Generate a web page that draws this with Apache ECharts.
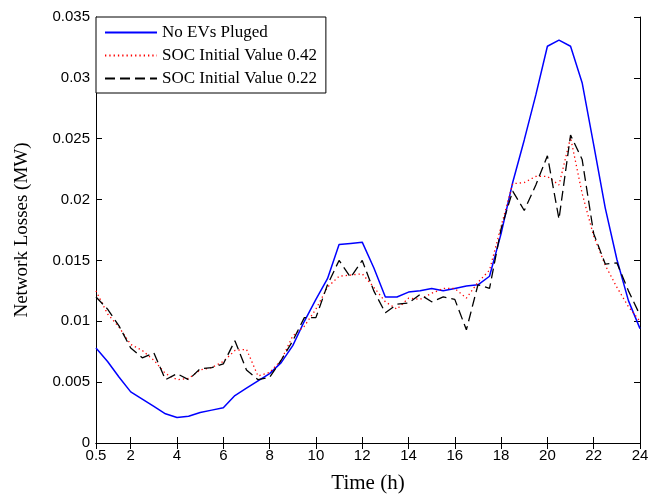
<!DOCTYPE html>
<html>
<head>
<meta charset="utf-8">
<script src="https://cdn.jsdelivr.net/npm/echarts@6/dist/echarts.min.js"></script>
<style>
html,body{margin:0;padding:0;background:#fff;}
#c{width:662px;height:500px;}
</style>
</head>
<body>
<div id="c"></div>
<script>
const hours = [0.5,1,1.5,2,2.5,3,3.5,4,4.5,5,5.5,6,6.5,7,7.5,8,8.5,9,9.5,10,10.5,11,11.5,12,12.5,13,13.5,14,14.5,15,15.5,16,16.5,17,17.5,18,18.5,19,19.5,20,20.5,21,21.5,22,22.5,23,23.5,24];
const noEV = [0.0078,0.0067,0.0054,0.0042,0.0036,0.0030,0.0024,0.0021,0.0022,0.0025,0.0027,0.0029,0.0039,0.0045,0.0051,0.0057,0.0066,0.0080,0.0100,0.0118,0.0135,0.0163,0.0164,0.0165,0.0144,0.0120,0.0120,0.0124,0.0125,0.0127,0.0125,0.0127,0.0129,0.0130,0.0137,0.0172,0.0214,0.0249,0.0286,0.0326,0.0331,0.0326,0.0296,0.0245,0.0193,0.0151,0.0117,0.0094];
const soc042 = [0.0125,0.0106,0.0095,0.0081,0.0076,0.0068,0.0057,0.0052,0.0053,0.0060,0.0062,0.0067,0.0076,0.0077,0.0055,0.0058,0.0068,0.0088,0.0096,0.0110,0.0128,0.0137,0.0138,0.0139,0.0128,0.0116,0.0110,0.0119,0.0118,0.0123,0.0127,0.0127,0.0119,0.0132,0.0142,0.0178,0.0213,0.0214,0.0219,0.0219,0.0212,0.0251,0.0205,0.0170,0.0146,0.0128,0.0112,0.0100];
const soc022 = [0.0120,0.0110,0.0096,0.0078,0.0070,0.0074,0.0052,0.0057,0.0052,0.0061,0.0062,0.0065,0.0084,0.0060,0.0052,0.0054,0.0068,0.0084,0.0103,0.0103,0.0130,0.0150,0.0136,0.0150,0.0125,0.0107,0.0114,0.0115,0.0122,0.0116,0.0120,0.0118,0.0093,0.0130,0.0127,0.0176,0.0207,0.0191,0.0212,0.0236,0.0184,0.0253,0.0233,0.0172,0.0147,0.0148,0.0125,0.0105];
const xTicks = [0.5,2,4,6,8,10,12,14,16,18,20,22,24];
const seriesNames = ['No EVs Pluged','SOC Initial Value 0.42','SOC Initial Value 0.22'];

const pair = (ys) => hours.map((h, i) => [h, ys[i]]);
const chart = echarts.init(document.getElementById('c'), null, {renderer: 'canvas'});
const axisLine = {show: true, lineStyle: {color: '#000', width: 1}};
const labelFont = {fontFamily: 'Liberation Sans, Arial, sans-serif', fontSize: 15, color: '#000'};
const serif = 'Liberation Serif, Times New Roman, serif';
chart.setOption({
  animation: false,
  backgroundColor: '#fff',
  grid: {left: 96, right: 22, top: 17, bottom: 57, containLabel: false},
  legend: {
    orient: 'vertical', left: 96, top: 17,
    backgroundColor: '#fff', borderColor: '#000', borderWidth: 1,
    borderRadius: 0,
    padding: [7, 9, 6, 8], itemGap: 6, itemWidth: 52, itemHeight: 17,
    itemStyle: {opacity: 0},
    textStyle: {fontFamily: serif, fontSize: 17, color: '#000'},
    data: seriesNames
  },
  xAxis: [{
    type: 'value', min: 0.5, max: 24,
    name: 'Time (h)', nameLocation: 'middle', nameGap: 30,
    nameTextStyle: {fontFamily: serif, fontSize: 21, color: '#000'},
    axisLine: axisLine,
    axisTick: {show: true, inside: true, length: 6, customValues: xTicks, lineStyle: {color: '#000'}},
    axisLabel: Object.assign({customValues: xTicks, margin: 5}, labelFont),
    splitLine: {show: false}
  }, {
    type: 'value', min: 0.5, max: 24, position: 'top',
    axisLine: axisLine,
    axisTick: {show: true, inside: true, length: 6, customValues: xTicks, lineStyle: {color: '#000'}},
    axisLabel: {show: false},
    splitLine: {show: false}
  }],
  yAxis: [{
    type: 'value', min: 0, max: 0.035, interval: 0.005,
    name: 'Network Losses (MW)', nameLocation: 'middle', nameGap: 64,
    nameTextStyle: {fontFamily: serif, fontSize: 19, color: '#000'},
    axisLine: axisLine,
    axisTick: {show: true, inside: true, length: 6, lineStyle: {color: '#000'}},
    axisLabel: Object.assign({margin: 6, formatter: v => String(+v.toFixed(3))}, labelFont),
    splitLine: {show: false}
  }, {
    type: 'value', min: 0, max: 0.035, interval: 0.005, position: 'right',
    axisLine: axisLine,
    axisTick: {show: true, inside: true, length: 6, lineStyle: {color: '#000'}},
    axisLabel: {show: false},
    splitLine: {show: false}
  }],
  series: [{
    name: seriesNames[0], type: 'line', data: pair(noEV), symbol: 'none',
    lineStyle: {color: '#0000ff', width: 1.5}, itemStyle: {color: '#0000ff'}
  }, {
    name: seriesNames[1], type: 'line', data: pair(soc042), symbol: 'none',
    lineStyle: {color: '#ff0000', width: 1.3, type: [1.3, 3]}, itemStyle: {color: '#ff0000'}
  }, {
    name: seriesNames[2], type: 'line', data: pair(soc022), symbol: 'none',
    lineStyle: {color: '#000', width: 1.3, type: [10, 5]}, itemStyle: {color: '#000'}
  }]
});
</script>
</body>
</html>
